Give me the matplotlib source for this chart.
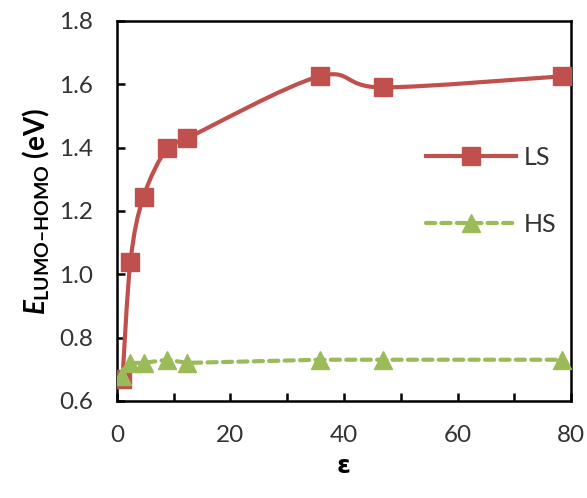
import numpy as np
import matplotlib.pyplot as plt
from matplotlib.path import Path
from matplotlib.patches import PathPatch
from matplotlib.lines import Line2D

plt.rcParams['font.family'] = ['Lato', 'DejaVu Sans']
plt.rcParams['mathtext.fontset'] = 'custom'
plt.rcParams['mathtext.it'] = 'Lato:italic:bold'
plt.rcParams['mathtext.rm'] = 'Lato:bold'
plt.rcParams['mathtext.bf'] = 'Lato:bold'

# constante diélectrique des solvants
eps = [1.0, 2.4, 4.7, 8.9, 12.4, 35.7, 46.8, 78.4]
gap_ls = [0.67, 1.04, 1.245, 1.40, 1.43, 1.625, 1.59, 1.625]
gap_hs = [0.68, 0.72, 0.72, 0.73, 0.72, 0.73, 0.73, 0.73]

red = '#C0504D'
green = '#9BBB59'


def smooth_path(x, y):
    # lissage type Excel (Catmull-Rom -> Bezier)
    x = np.asarray(x, float)
    y = np.asarray(y, float)
    pts = np.column_stack([x, y])
    verts = [pts[0]]
    codes = [Path.MOVETO]
    n = len(pts)
    for i in range(n - 1):
        p0 = pts[i - 1] if i > 0 else pts[i]
        p1 = pts[i]
        p2 = pts[i + 1]
        p3 = pts[i + 2] if i + 2 < n else pts[i + 1]
        c1 = p1 + (p2 - p0) / 6.0
        c2 = p2 - (p3 - p1) / 6.0
        verts += [c1, c2, p2]
        codes += [Path.CURVE4] * 3
    return Path(verts, codes)


fig = plt.figure(figsize=(5.87, 4.98), dpi=100)
ax = fig.add_axes([0.199, 0.195, 0.774, 0.763])

ax.add_patch(PathPatch(smooth_path(eps, gap_ls), fill=False, edgecolor=red, lw=3, zorder=2))
ax.plot(eps, gap_ls, ls='none', marker='s', ms=12.5, color=red, zorder=3)
ax.plot(eps, gap_hs, ls=(0, (2.2, 1.5)), lw=3, color=green, dash_capstyle='round',
        marker='^', ms=13.5, zorder=3)

ax.set_xlim(0, 80)
ax.set_ylim(0.6, 1.8)
ax.set_xticks([0, 20, 40, 60, 80])
ax.set_xticks([10, 30, 50, 70], minor=True)
ax.set_yticks([0.6, 0.8, 1.0, 1.2, 1.4, 1.6, 1.8])
ax.yaxis.set_major_formatter(plt.FormatStrFormatter('%.1f'))
ax.tick_params(which='both', direction='in', length=6, width=1.8, labelsize=17.5,
               colors='black', labelcolor='#333333')
ax.tick_params(axis='y', pad=17)
ax.tick_params(axis='x', pad=17)
for s in ax.spines.values():
    s.set_linewidth(1.8)

ax.set_xlabel('ε', fontsize=18, fontweight='bold', family='DejaVu Sans', labelpad=6)
ax.set_ylabel('$\\mathit{E}_{\\mathrm{LUMO–HOMO}}$ (eV)', fontsize=20, fontweight='bold',
              labelpad=5)

handles = [
    Line2D([], [], color=red, lw=3, marker='s', ms=12.5),
    Line2D([], [], color=green, lw=3, ls=(0, (2.2, 1.5)), dash_capstyle='round', marker='^', ms=13.5),
]
ax.legend(handles, ['LS', 'HS'], frameon=False, fontsize=18, handlelength=3.6,
          labelspacing=1.75, handletextpad=0.3, loc='center left',
          bbox_to_anchor=(0.632, 0.553), labelcolor='#333333')

fig.savefig('out.png', dpi=100)
